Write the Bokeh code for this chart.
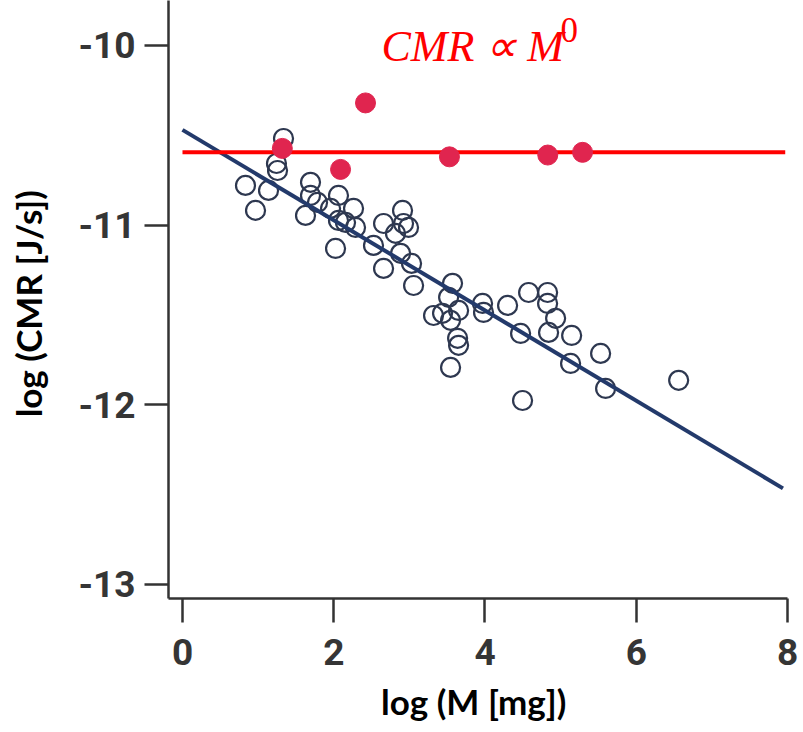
from bokeh.plotting import figure
from bokeh.models import Range1d, FixedTicker, Label
from bokeh.embed import file_html
from bokeh.resources import INLINE

# open circles: log mass, log CMR
x_open = [1.336, 1.243, 1.257, 0.833, 1.138, 0.966, 1.693, 1.693, 1.786, 1.627,
          2.063, 1.958, 2.262, 2.063, 2.288, 2.156, 2.024, 2.659, 2.910, 2.923,
          2.989, 2.817, 2.526, 2.659, 2.884, 3.029, 3.056, 3.571, 3.519, 3.320,
          3.439, 3.545, 3.651, 3.638, 3.651, 3.545, 3.968, 3.981, 4.299, 4.577,
          4.828, 4.828, 4.934, 4.841, 5.146, 4.471, 5.529, 5.132, 5.595, 4.497,
          6.561]
y_open = [-10.518, -10.657, -10.696, -10.779, -10.807, -10.918, -10.762, -10.835, -10.874, -10.946,
          -10.835, -10.907, -10.907, -10.974, -11.013, -10.985, -11.130, -10.991, -10.918, -10.991,
          -11.013, -11.046, -11.113, -11.241, -11.157, -11.213, -11.336, -11.324, -11.402, -11.503,
          -11.491, -11.530, -11.475, -11.630, -11.669, -11.792, -11.436, -11.486, -11.447, -11.375,
          -11.375, -11.436, -11.519, -11.597, -11.614, -11.603, -11.714, -11.770, -11.909, -11.976,
          -11.864]

# red filled points
x_red = [1.32, 2.09, 2.42, 3.53, 4.83, 5.29]
y_red = [-10.573, -10.69, -10.32, -10.62, -10.61, -10.595]

# regression line (slope about -1/4)
fit_x = [0.0, 7.94]
fit_y = [-10.47, -12.465]

# constant line CMR ~ M^0
const_x = [0.0, 7.97]
const_y = [-10.594, -10.594]

x_ticks = [0, 2, 4, 6, 8]
y_ticks = [-13, -12, -11, -10]
y_tick_labels = ["-13", "-12", "-11", "-10"]

p = figure(width=800, height=728, output_backend="svg", toolbar_location=None,
           x_range=Range1d(-0.185, 8.0), y_range=Range1d(-13.078, -9.75),
           min_border_left=168, min_border_right=13, min_border_top=0,
           min_border_bottom=130)
p.outline_line_color = None
p.xgrid.visible = False
p.ygrid.visible = False
p.background_fill_color = "white"
p.border_fill_color = "white"

for ax, ticks in ((p.xaxis[0], x_ticks), (p.yaxis[0], y_ticks)):
    ax.ticker = FixedTicker(ticks=ticks)
    ax.minor_tick_line_color = None
    ax.major_tick_in = 0
    ax.major_tick_out = 24
    ax.major_tick_line_width = 2.5
    ax.major_tick_line_color = "#333333"
    ax.axis_line_width = 2.5
    ax.axis_line_color = "#333333"
    ax.major_label_text_font = "Roboto"
    ax.major_label_text_font_style = "bold"
    ax.major_label_text_font_size = "37px"
    ax.major_label_text_color = "#353535"
    ax.axis_label_text_font = "Lato"
    ax.axis_label_text_font_style = "bold"
    ax.axis_label_text_font_size = "35px"
    ax.axis_label_text_color = "#000000"

p.yaxis[0].major_label_overrides = {t: s for t, s in zip(y_ticks, y_tick_labels)}
p.xaxis[0].major_label_standoff = 16
p.yaxis[0].major_label_standoff = 9
p.xaxis[0].axis_label = "log (M  [mg])"
p.yaxis[0].axis_label = "log (CMR  [J/s])"
p.xaxis[0].axis_label_standoff = 12
p.yaxis[0].axis_label_standoff = 26

p.scatter(x_open, y_open, size=19, marker="circle", fill_color=None,
          line_color="#2e3850", line_width=2.2)
p.line(fit_x, fit_y, line_color="#233a6b", line_width=4)
p.line(const_x, const_y, line_color="#ff0000", line_width=4)
p.scatter(x_red, y_red, size=20, marker="circle", fill_color="#e0254f",
          line_color="#e0254f", line_width=1)

p.add_layout(Label(x=2.63, y=-10.006, text="CMR ∝ M", text_font="Liberation Serif",
                   text_font_style="italic", text_font_size="44px",
                   text_color="#ff0000", text_baseline="alphabetic"))
p.add_layout(Label(x=5.0, y=-9.913, text="0", text_font="Liberation Serif",
                   text_font_size="35px",
                   text_color="#ff0000", text_baseline="alphabetic"))

open("out.html", "w").write(file_html(p, INLINE))
